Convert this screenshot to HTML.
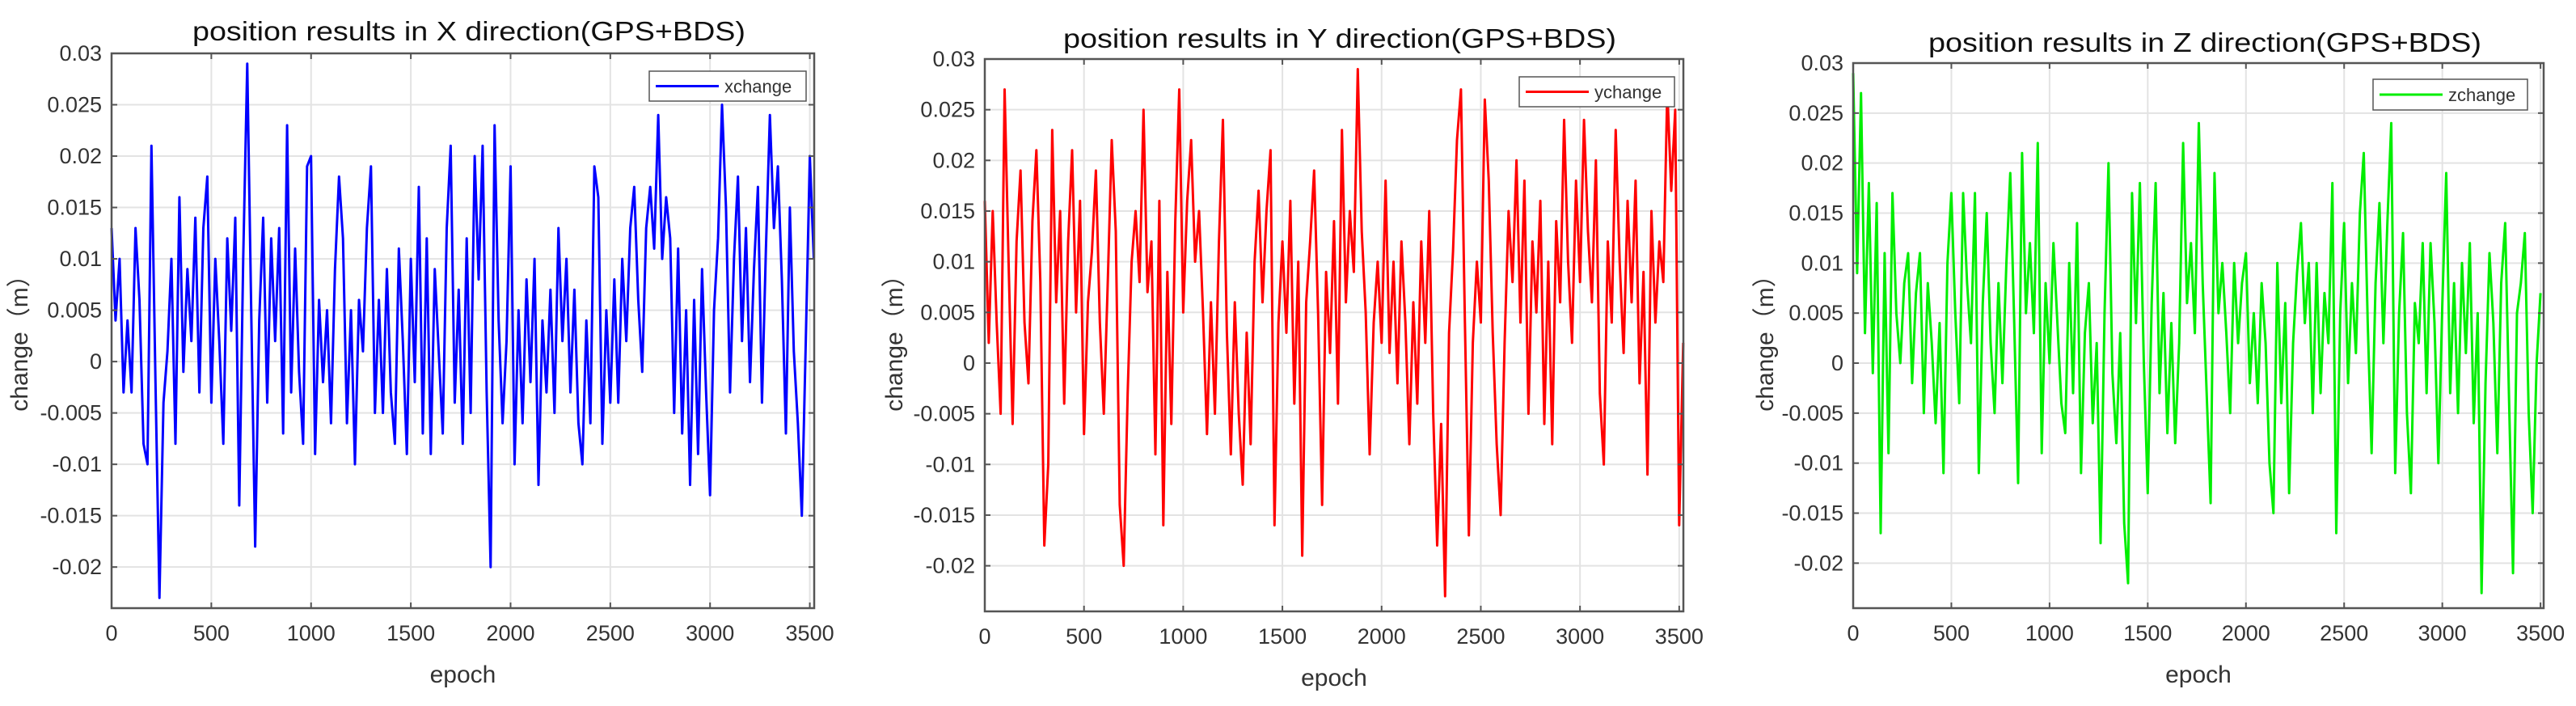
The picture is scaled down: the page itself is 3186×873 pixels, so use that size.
<!DOCTYPE html>
<html><head><meta charset="utf-8"><style>
html,body{margin:0;padding:0;background:#fff;}
svg{display:block;font-family:"Liberation Sans","Noto Sans CJK SC",sans-serif;}
</style></head><body>
<svg id="fig" width="3186" height="873" viewBox="0 0 3186 873" xmlns="http://www.w3.org/2000/svg"></svg>
<script>
const xTicks = [0,500,1000,1500,2000,2500,3000,3500];
const yTicks = [-0.02,-0.015,-0.01,-0.005,0,0.005,0.01,0.015,0.02,0.025,0.03];
const yTickLabels = ["-0.02","-0.015","-0.01","-0.005","0","0.005","0.01","0.015","0.02","0.025","0.03"];
const epochStep = 20;
const xchange = [0.013,0.004,0.010,-0.003,0.004,-0.003,0.013,0.006,-0.008,-0.010,0.021,-0.002,-0.023,-0.004,0.001,0.010,-0.008,0.016,-0.001,0.009,0.002,0.014,-0.003,0.013,0.018,-0.004,0.010,0.002,-0.008,0.012,0.003,0.014,-0.014,0.010,0.029,0.005,-0.018,0.004,0.014,-0.004,0.012,0.002,0.013,-0.007,0.023,-0.003,0.011,-0.001,-0.008,0.019,0.020,-0.009,0.006,-0.002,0.005,-0.006,0.009,0.018,0.012,-0.006,0.005,-0.010,0.006,0.001,0.013,0.019,-0.005,0.006,-0.005,0.009,-0.003,-0.008,0.011,0.002,-0.009,0.010,-0.002,0.017,-0.007,0.012,-0.009,0.009,0.001,-0.007,0.013,0.021,-0.004,0.007,-0.008,0.012,-0.005,0.020,0.008,0.021,-0.003,-0.020,0.023,0.004,-0.006,0.002,0.019,-0.010,0.005,-0.006,0.008,-0.002,0.010,-0.012,0.004,-0.003,0.007,-0.005,0.013,0.002,0.010,-0.003,0.007,-0.006,-0.010,0.004,-0.006,0.019,0.016,-0.008,0.005,-0.004,0.008,-0.004,0.010,0.002,0.013,0.017,0.006,-0.001,0.013,0.017,0.011,0.024,0.010,0.016,0.012,-0.005,0.011,-0.007,0.005,-0.012,0.006,-0.009,0.009,-0.003,-0.013,0.005,0.012,0.025,0.015,-0.003,0.010,0.018,0.002,0.013,-0.002,0.009,0.017,-0.004,0.011,0.024,0.013,0.019,0.008,-0.007,0.015,0.001,-0.006,-0.015,0.002,0.020,0.010];
const ychange = [0.016,0.002,0.015,0.004,-0.005,0.027,0.010,-0.006,0.012,0.019,0.004,-0.002,0.014,0.021,0.008,-0.018,-0.010,0.023,0.006,0.015,-0.004,0.012,0.021,0.005,0.016,-0.007,0.006,0.011,0.019,0.004,-0.005,0.008,0.022,0.013,-0.014,-0.020,-0.003,0.010,0.015,0.008,0.025,0.007,0.012,-0.009,0.016,-0.016,0.009,-0.006,0.014,0.027,0.005,0.016,0.022,0.010,0.015,0.005,-0.007,0.006,-0.005,0.012,0.024,0.003,-0.009,0.006,-0.005,-0.012,0.003,-0.008,0.010,0.017,0.006,0.015,0.021,-0.016,0.004,0.012,0.003,0.016,-0.004,0.010,-0.019,0.006,0.012,0.019,0.005,-0.014,0.009,0.001,0.014,-0.004,0.023,0.006,0.015,0.009,0.029,0.013,0.005,-0.009,0.004,0.010,0.002,0.018,0.001,0.010,-0.002,0.012,0.004,-0.008,0.006,-0.004,0.012,0.002,0.015,-0.005,-0.018,-0.006,-0.023,0.003,0.011,0.022,0.027,0.004,-0.017,0.002,0.010,0.004,0.026,0.018,0.003,-0.008,-0.015,0.002,0.015,0.008,0.020,0.004,0.018,-0.005,0.012,0.005,0.016,-0.006,0.010,-0.008,0.014,0.006,0.024,0.010,0.002,0.018,0.008,0.024,0.013,0.006,0.020,-0.003,-0.010,0.012,0.004,0.023,0.010,0.001,0.016,0.006,0.018,-0.002,0.009,-0.011,0.015,0.004,0.012,0.008,0.027,0.017,0.025,-0.016,0.002];
const zchange = [0.029,0.009,0.027,0.003,0.018,-0.001,0.016,-0.017,0.011,-0.009,0.017,0.005,0.000,0.008,0.011,-0.002,0.007,0.011,-0.005,0.008,0.002,-0.006,0.004,-0.011,0.010,0.017,0.005,-0.004,0.017,0.008,0.002,0.017,-0.011,0.006,0.015,0.002,-0.005,0.008,-0.002,0.010,0.019,0.004,-0.012,0.021,0.005,0.012,0.003,0.022,-0.009,0.008,0.000,0.012,0.004,-0.004,-0.007,0.010,-0.003,0.014,-0.011,0.003,0.008,-0.006,0.002,-0.018,0.005,0.020,-0.001,-0.008,0.003,-0.016,-0.022,0.017,0.004,0.018,0.000,-0.013,0.006,0.018,-0.003,0.007,-0.007,0.004,-0.008,0.002,0.022,0.006,0.012,0.003,0.024,0.008,-0.003,-0.014,0.019,0.005,0.010,0.003,-0.005,0.010,0.002,0.008,0.011,-0.002,0.005,-0.004,0.008,0.002,-0.010,-0.015,0.010,-0.004,0.006,-0.013,0.002,0.009,0.014,0.004,0.010,-0.005,0.010,-0.003,0.007,0.002,0.018,-0.017,0.005,0.014,-0.002,0.008,0.001,0.015,0.021,0.004,-0.009,0.008,0.016,0.002,0.014,0.024,-0.011,0.005,0.013,-0.005,-0.013,0.006,0.002,0.012,-0.003,0.012,0.004,-0.010,0.006,0.019,-0.003,0.008,-0.005,0.010,0.001,0.012,-0.006,0.005,-0.023,-0.002,0.011,0.004,-0.009,0.008,0.014,-0.004,-0.021,0.005,0.008,0.013,-0.005,-0.015,0.000,0.007];

const NS = "http://www.w3.org/2000/svg";
const svg = document.getElementById('fig');
function mk(tag, attrs, parent){
  const e = document.createElementNS(NS, tag);
  for (const k in attrs) e.setAttribute(k, attrs[k]);
  (parent||svg).appendChild(e);
  return e;
}
const panels = [
  {key:'x', L:138, R:1007, T:66, B:752, xmax:3522, ymin:-0.024, ymax:0.03, color:'#0000ff', data:xchange,
   title:'position results in X direction(GPS+BDS)', tx:580, ty:50, ylx:34, leg:[803,88,997,125], legName:'xchange'},
  {key:'y', L:1218, R:2082, T:73, B:756, xmax:3521, ymin:-0.0245, ymax:0.03, color:'#ff0000', data:ychange,
   title:'position results in Y direction(GPS+BDS)', tx:1657, ty:59, ylx:1116, leg:[1879,95,2071,132], legName:'ychange'},
  {key:'z', L:2292, R:3146, T:78, B:752, xmax:3516, ymin:-0.0245, ymax:0.03, color:'#00ee00', data:zchange,
   title:'position results in Z direction(GPS+BDS)', tx:2727, ty:64, ylx:2193, leg:[2935,98,3126,136], legName:'zchange'}
];
panels.forEach(p => {
  const g = mk('g', {});
  
  
  const sx = v => p.L + (v / p.xmax) * (p.R - p.L);
  const sy = v => p.B - (v - p.ymin) / (p.ymax - p.ymin) * (p.B - p.T);
  mk('rect', {x:p.L, y:p.T, width:p.R-p.L, height:p.B-p.T, fill:'#fff'}, g);
  // grid
  xTicks.forEach(t => {
    const l = mk('line', {x1:sx(t), x2:sx(t), y1:p.T, y2:p.B, stroke:'#e3e3e3', 'stroke-width':2}, g);
    
    
  });
  yTicks.forEach(t => {
    const l = mk('line', {x1:p.L, x2:p.R, y1:sy(t), y2:sy(t), stroke:'#e3e3e3', 'stroke-width':2}, g);
    
    
  });
  // series
  let d = '';
  p.data.forEach((v, i) => { d += (i ? 'L' : 'M') + sx(i * epochStep).toFixed(1) + ',' + sy(v).toFixed(1); });
  const path = mk('path', {d:d, fill:'none', stroke:p.color, 'stroke-width':3, 'stroke-linejoin':'round'}, g);
  
  
  // axes box
  const box = mk('rect', {x:p.L, y:p.T, width:p.R-p.L, height:p.B-p.T, fill:'none', stroke:'#555', 'stroke-width':2.5}, g);
  
  
  // ticks and labels
  xTicks.forEach(t => {
    mk('line', {x1:sx(t), x2:sx(t), y1:p.B, y2:p.B-7, stroke:'#555', 'stroke-width':2}, g);
    mk('line', {x1:sx(t), x2:sx(t), y1:p.T, y2:p.T+7, stroke:'#555', 'stroke-width':2}, g);
    const tl = mk('text', {x:sx(t), y:p.B+40, 'text-anchor':'middle', 'font-size':27, fill:'#333'}, g);
    tl.textContent = String(t);
    
    
  });
  yTicks.forEach((t, i) => {
    mk('line', {x1:p.L, x2:p.L+7, y1:sy(t), y2:sy(t), stroke:'#555', 'stroke-width':2}, g);
    mk('line', {x1:p.R, x2:p.R-7, y1:sy(t), y2:sy(t), stroke:'#555', 'stroke-width':2}, g);
    const tl = mk('text', {x:p.L-12, y:sy(t)+9, 'text-anchor':'end', 'font-size':27, fill:'#333'}, g);
    tl.textContent = yTickLabels[i];
    
    
  });
  // title
  const ti = mk('text', {x:p.tx, y:p.ty, 'text-anchor':'middle', 'font-size':33, fill:'#111', textLength:684, lengthAdjust:'spacingAndGlyphs'}, g);
  ti.textContent = p.title;
  
  
  // axis titles
  const xt = mk('text', {x:(p.L+p.R)/2, y:p.B+92, 'text-anchor':'middle', 'font-size':30, fill:'#333'}, g);
  xt.textContent = 'epoch';
  
  
  const yc = 417;
  const yt = mk('text', {x:p.ylx, y:yc, 'text-anchor':'middle', 'font-size':30, fill:'#333', transform:'rotate(-90 '+p.ylx+' '+yc+')'}, g);
  yt.textContent = 'change（m）';
  
  
  // legend
  const lg = mk('g', {}, g);
  
  
  const [lx1, ly1, lx2, ly2] = p.leg;
  mk('rect', {x:lx1, y:ly1, width:lx2-lx1, height:ly2-ly1, fill:'#fff', stroke:'#555', 'stroke-width':1.5}, lg);
  const lm = (ly1+ly2)/2;
  const ll = mk('line', {x1:lx1+8, x2:lx1+86, y1:lm, y2:lm, stroke:p.color, 'stroke-width':3}, lg);
  
  
  const lt = mk('text', {x:lx1+93, y:lm+8, 'font-size':22, fill:'#333'}, lg);
  lt.textContent = p.legName;
  
  
});
</script>
</body></html>
